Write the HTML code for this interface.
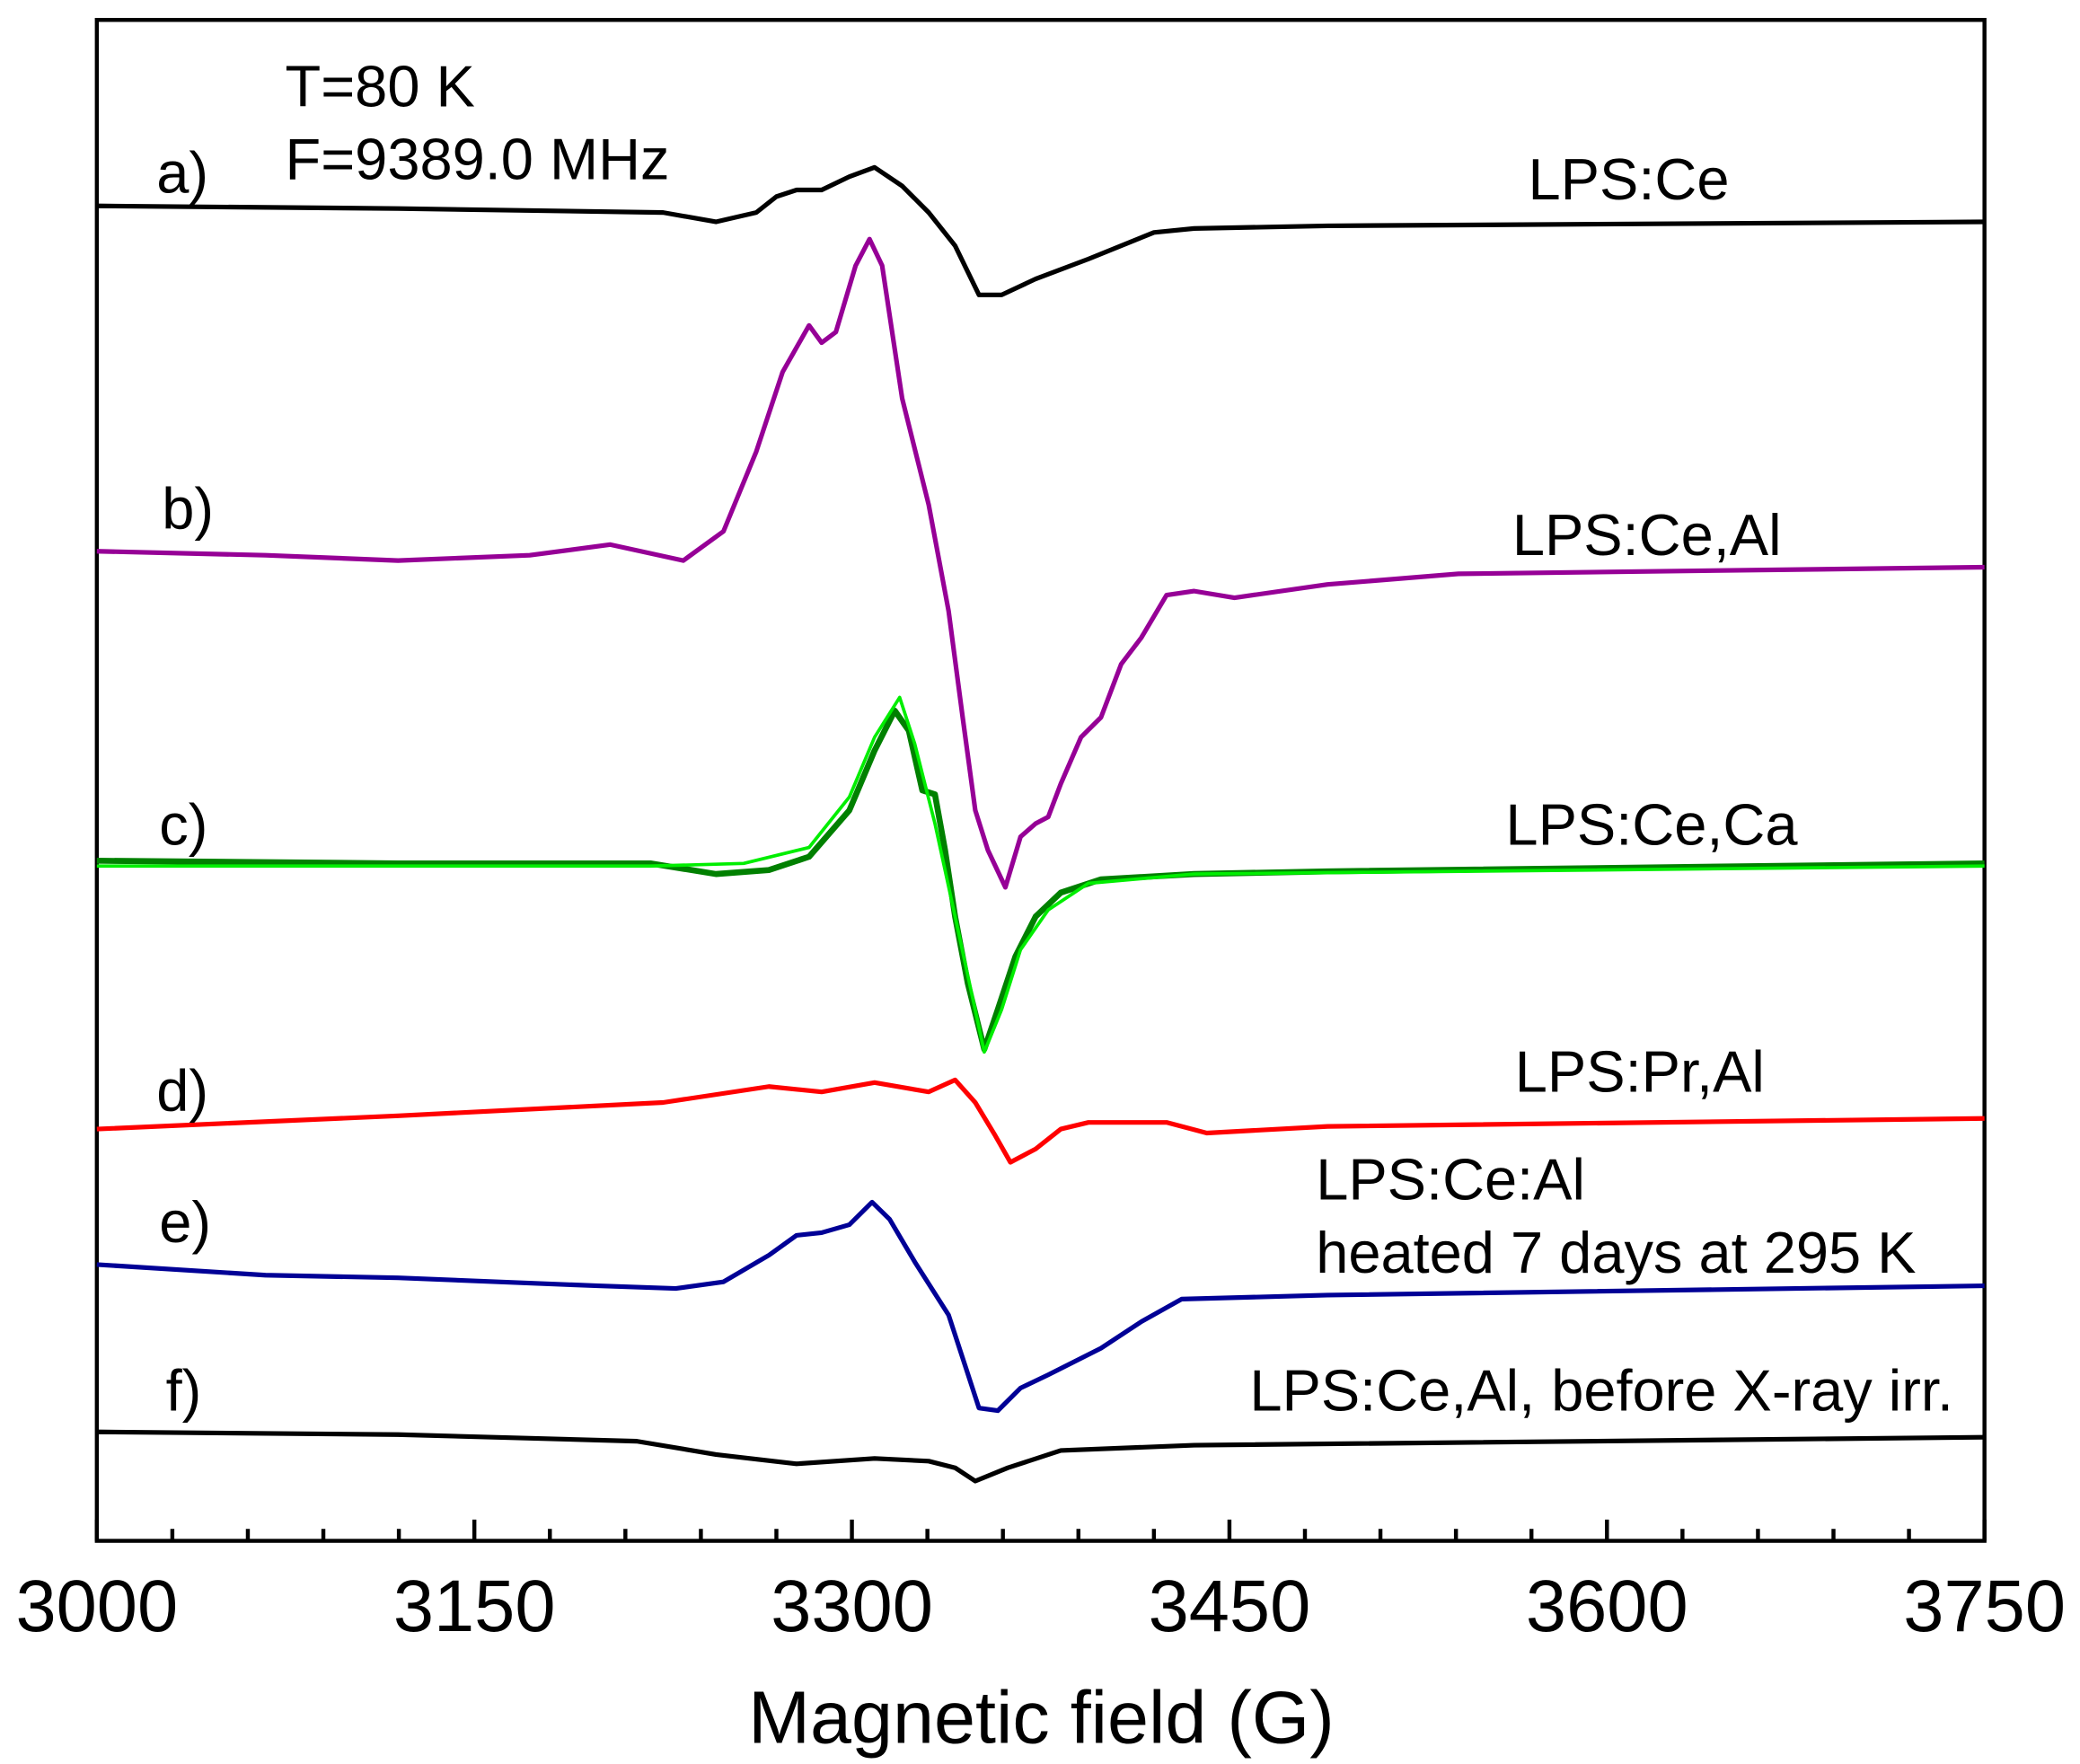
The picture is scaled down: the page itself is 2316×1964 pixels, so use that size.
<!DOCTYPE html>
<html><head><meta charset="utf-8"><style>
html,body{margin:0;padding:0;background:#fff}
svg{display:block}
text{font-family:"Liberation Sans",Arial,sans-serif;fill:#000}
</style></head><body>
<svg id="chart" width="2316" height="1964" viewBox="0 0 1568 1328" preserveAspectRatio="none" xmlns="http://www.w3.org/2000/svg">
<rect x="73" y="15" width="1423" height="1145" fill="none" stroke="#000" stroke-width="3"/>
<g id="ticks"></g>
<g id="series"></g>
<text x="215" y="80" font-size="44">T=80 K</text>
<text x="215" y="135" font-size="44">F=9389.0 MHz</text>
<text x="118" y="145" font-size="44">a)</text>
<text x="1152" y="150" font-size="44">LPS:Ce</text>
<text x="122" y="398" font-size="44">b)</text>
<text x="1140" y="418" font-size="44">LPS:Ce,Al</text>
<text x="120" y="636" font-size="44">c)</text>
<text x="1135" y="636" font-size="44">LPS:Ce,Ca</text>
<text x="118" y="836" font-size="44">d)</text>
<text x="1142" y="822" font-size="44">LPS:Pr,Al</text>
<text x="120" y="935" font-size="44">e)</text>
<text x="992" y="903" font-size="44">LPS:Ce:Al</text>
<text x="992" y="958" font-size="44">heated 7 days at 295 K</text>
<text x="125" y="1062" font-size="44">f)</text>
<text x="942" y="1062" font-size="44">LPS:Ce,Al, before X-ray irr.</text>
<text x="785" y="1312" font-size="56" text-anchor="middle">Magnetic field (G)</text>
</svg>
<script>
const xTicks=[3000,3150,3300,3450,3600,3750];
const aField=[3000,3119.7,3225,3246,3262,3270,3278,3288,3299,3309,3320,3330.5,3341,3350.5,3359.5,3373,3394,3420,3436,3489,3750];
const aVal=[1005,1003,1000,993,1000,1012,1017,1017,1027,1034,1020,1000,975,938,938,950,965,985,988,990,993];
const bField=[3000,3067,3119.7,3172,3204,3233,3249,3262,3272.5,3283,3288,3293.6,3301.5,3307,3312,3320,3330.5,3338.4,3344,3349,3354,3361,3367,3373,3378,3383,3391,3399,3407,3415,3425,3436,3452,3489,3541,3750];
const bVal=[745,742,738,742,750,738,760,820,880,915,902,910,960,980,960,860,780,700,620,550,520,492,530,540,545,570,605,620,660,680,712,715,710,720,728,733];
const cField=[3000,3119.7,3220,3246,3267,3283,3299,3309,3317,3322.6,3328,3333,3337,3341,3346,3352.6,3358,3365,3373,3383,3399,3436,3489,3750];
const cVal=[512,510,510,502,505,515,550,595,625,610,565,562,520,470,420,370,400,440,470,488,498,502,504,510];
const fitField=[3000,3220,3257,3283,3299,3309,3319,3325,3333,3341,3352.6,3359.5,3367,3378,3394,3436,3750];
const fitVal=[508,508,510,522,560,605,635,600,540,470,368,400,445,475,495,502,508];
const dField=[3000,3119.7,3225,3267,3288,3309,3330.5,3341,3349,3357,3363,3373,3383,3394,3425,3441,3489,3750];
const dVal=[310,320,330,342,338,345,338,347,330,305,285,295,310,315,315,307,312,318];
const eField=[3000,3067,3119.7,3199,3230,3249,3267,3278,3288,3299,3308,3315,3325,3338.4,3350.5,3358,3367,3378,3399,3415,3431,3489,3750];
const eVal=[208,200,198,192,190,195,215,230,232,238,255,242,210,170,100,98,115,125,145,165,182,185,192];
const fField=[3000,3119.7,3214.5,3246,3278,3309,3330.5,3341,3349,3362,3383,3436,3750];
const fVal=[82,80,75,65,58,62,60,55,45,55,68,72,78];

const L=73,R=1496,T=15,B=1160;
function xs(f){return L+(f-3000)/750*(R-L);}
function ys(v){return B-v;}
const NS="http://www.w3.org/2000/svg";
const tg=document.getElementById('ticks');
for(let f=3000;f<=3750;f+=30){
  const major=(f-3000)%150===0;
  const t=document.createElementNS(NS,'line');
  t.setAttribute('x1',xs(f));t.setAttribute('x2',xs(f));
  t.setAttribute('y1',B);t.setAttribute('y2',B-(major?16:9));
  t.setAttribute('stroke','#000');t.setAttribute('stroke-width','3');
  
  
  tg.appendChild(t);
}
xTicks.forEach(f=>{
  const tx=document.createElementNS(NS,'text');
  tx.setAttribute('x',xs(f));tx.setAttribute('y',1228);
  tx.setAttribute('font-size','55');tx.setAttribute('text-anchor','middle');
  tx.textContent=f;
  
  
  tg.appendChild(tx);
});
const sg=document.getElementById('series');
function draw(fs,vs,color,w,name){
  const p=document.createElementNS(NS,'polyline');
  p.setAttribute('points',fs.map((f,i)=>xs(f).toFixed(1)+','+ys(vs[i]).toFixed(1)).join(' '));
  p.setAttribute('fill','none');p.setAttribute('stroke',color);
  p.setAttribute('stroke-width',w);p.setAttribute('stroke-linejoin','round');
  
  
  sg.appendChild(p);
}
draw(aField,aVal,'#000',3.5,'series-a-lps-ce');
draw(bField,bVal,'#960096',3.5,'series-b-lps-ce-al');
draw(cField,cVal,'#008000',4.5,'series-c-lps-ce-ca');
draw(fitField,fitVal,'#00ee00',2.5,'series-c-fit');
draw(dField,dVal,'#ff0000',3.5,'series-d-lps-pr-al');
draw(eField,eVal,'#000096',3.5,'series-e-heated');
draw(fField,fVal,'#000',3.5,'series-f-before-irradiation');
</script>
</body></html>
